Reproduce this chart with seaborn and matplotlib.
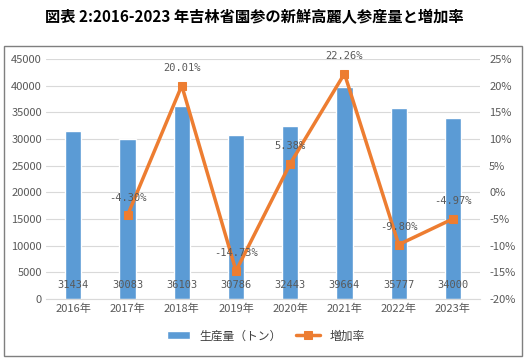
import matplotlib
matplotlib.use("Agg")
import matplotlib.pyplot as plt
import seaborn as sns
import pandas as pd
from matplotlib.patches import Rectangle
from matplotlib.ticker import FuncFormatter

# datos del gráfico
anios = ["2016年", "2017年", "2018年", "2019年", "2020年", "2021年", "2022年", "2023年"]
produccion = [31434, 30083, 36103, 30786, 32443, 39664, 35777, 34000]
crecimiento = [None, -4.30, 20.01, -14.73, 5.38, 22.26, -9.80, -4.97]

sns.set_style("white")
plt.rcParams["font.family"] = ["Noto Sans CJK JP", "DejaVu Sans"]

azul = "#5B9BD5"
naranja = "#ED7D31"
gris = "#595959"

df = pd.DataFrame({"anio": anios, "prod": produccion, "crec": crecimiento})

fig = plt.figure(figsize=(5.31, 3.62), dpi=100)
ax = fig.add_axes([0.087, 0.174, 0.817, 0.663])

# borde exterior del gráfico
fig.patches.append(Rectangle((0.0075, 0.0166), 0.9755, 0.856, transform=fig.transFigure,
                             fill=False, edgecolor="#7f7f7f", linewidth=1))

sns.barplot(data=df, x="anio", y="prod", color=azul, width=0.3, saturation=1, ax=ax,
            label="生産量（トン）")
if ax.get_legend():
    ax.get_legend().remove()
ax.set_ylim(0, 45000)
ax.set_yticks(range(0, 45001, 5000))
ax.yaxis.grid(True, color="#d9d9d9", linewidth=0.8)
ax.set_axisbelow(True)
ax.set_xlabel("")
ax.set_ylabel("")
for s in ax.spines.values():
    s.set_visible(False)
ax.spines["bottom"].set_visible(True)
ax.spines["bottom"].set_color("#d9d9d9")
ax.tick_params(axis="both", labelsize=8, colors=gris, length=0, pad=3)

for i, v in enumerate(produccion):
    ax.text(i, 2600, str(v), ha="center", va="center", fontsize=7.5, color=gris,
            family="DejaVu Sans Mono")

ax2 = ax.twinx()
sns.lineplot(x=list(range(len(anios))), y=crecimiento, color=naranja, linewidth=2.5,
             marker="s", markersize=6, markeredgecolor=naranja, ax=ax2, label="増加率")
ax2.set_ylim(-20, 25)
ax2.set_yticks(range(-20, 26, 5))
ax2.yaxis.set_major_formatter(FuncFormatter(lambda v, p: f"{v:.0f}%"))
ax2.tick_params(axis="y", labelsize=8, colors=gris, length=0, pad=6.5)
for s in ax2.spines.values():
    s.set_visible(False)
ax.set_xlim(-0.5, 7.5)

for i, v in enumerate(crecimiento):
    if v is None:
        continue
    ax2.text(i, v + 3.3, f"{v:.2f}%", ha="center", va="center", fontsize=7.5, color=gris,
             family="DejaVu Sans Mono")

# leyenda combinada
h1, l1 = ax.get_legend_handles_labels()
h2, l2 = ax2.get_legend_handles_labels()
if ax2.get_legend():
    ax2.get_legend().remove()
fig.legend(h1 + h2, l1 + l2, loc="center", bbox_to_anchor=(0.5, 0.072), ncol=2,
           frameon=False, fontsize=8.5, handlelength=2, columnspacing=1.2,
           labelcolor="#404040")

fig.text(0.479, 0.953, "図表 2:2016-2023 年吉林省園参の新鮮高麗人参産量と増加率",
         ha="center", va="center", fontsize=11, fontweight="bold", color="black")

fig.savefig("out.png", dpi=100)
